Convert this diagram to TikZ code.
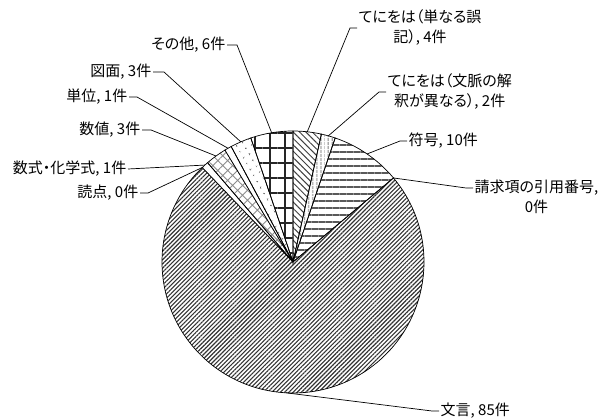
\documentclass[tikz,border=0pt]{standalone}
\usepackage{fontspec}
\setmainfont[RawFeature=+palt]{Noto Sans CJK JP}
\usetikzlibrary{patterns.meta}

\begin{document}
\begin{tikzpicture}[x=1pt, y=1pt,
  slice/.style={draw=black, line width=0.7pt},
  lbl/.style={inner sep=1.5pt, font=\fontsize{15}{20}\selectfont, align=center},
  leader/.style={draw=black, line width=0.7pt}]

\useasboundingbox (0,0) rectangle (606,418);
\coordinate (c) at (293,156);

% slices, clockwise from the top
\draw[slice, pattern={Lines[angle=-45, distance=4.5pt, line width=1pt]}, pattern color=black!75] (c) -- ++(90:131) arc[start angle=90, end angle=77.48, radius=131] -- cycle;
\draw[slice, pattern={Lines[angle=90, distance=4pt, line width=0.9pt]}, pattern color=black!75] (c) -- ++(77.48:131) arc[start angle=77.48, end angle=71.22, radius=131] -- cycle;
\draw[slice, pattern={Lines[angle=0, distance=7pt, line width=1.4pt]}, pattern color=black!65] (c) -- ++(71.22:131) arc[start angle=71.22, end angle=39.91, radius=131] -- cycle;
\draw[slice, pattern={Lines[angle=45, distance=3pt, line width=1.1pt]}, pattern color=black!80] (c) -- ++(39.91:131) arc[start angle=39.91, end angle=-226.17, radius=131] -- cycle;
\draw[slice, fill=white] (c) -- ++(133.83:131) arc[start angle=133.83, end angle=130.70, radius=131] -- cycle;
\draw[slice, pattern={Hatch[angle=45, distance=7pt, line width=0.9pt]}, pattern color=black!45] (c) -- ++(130.70:131) arc[start angle=130.70, end angle=121.30, radius=131] -- cycle;
\draw[slice, fill=white] (c) -- ++(121.30:131) arc[start angle=121.30, end angle=118.17, radius=131] -- cycle;
\draw[slice, pattern={Dots[angle=30, distance=6.5pt, radius=0.9pt]}, pattern color=black!60] (c) -- ++(118.17:131) arc[start angle=118.17, end angle=108.78, radius=131] -- cycle;
\draw[slice, pattern={Hatch[angle=0, distance=15pt, line width=1.2pt]}, pattern color=black!85] (c) -- ++(108.78:131) arc[start angle=108.78, end angle=90, radius=131] -- cycle;

% labels on the right
\node[lbl, anchor=west] (tenioha1) at (357,390) {てにをは（単なる誤\\記）, 4件};
\node[lbl, anchor=west] (tenioha2) at (386,326) {てにをは（文脈の解\\釈が異なる）, 2件};
\node[lbl, anchor=west] (fugo) at (407,277) {符号, 10件};
\node[lbl, anchor=west] (seikyu) at (473,221) {請求項の引用番号,\\0件};
\node[lbl, anchor=west] (mongon) at (439,7) {文言, 85件};

% labels on the left
\node[lbl, anchor=east] (sonota) at (227,373) {その他, 6件};
\node[lbl, anchor=east] (zumen) at (153,346) {図面, 3件};
\node[lbl, anchor=east] (tani) at (129,321) {単位, 1件};
\node[lbl, anchor=east] (suchi) at (142,288) {数値, 3件};
\node[lbl, anchor=east] (sushiki) at (128,249) {数式・化学式, 1件};
\node[lbl, anchor=east] (toten) at (140,225) {読点, 0件};

% leader lines
\draw[leader] ([shift={(83.74:131)}]c) -- ([xshift=-7pt]tenioha1.west) -- (tenioha1.west);
\draw[leader] ([shift={(74.35:131)}]c) -- ([xshift=-7pt]tenioha2.west) -- (tenioha2.west);
\draw[leader] ([shift={(55.56:131)}]c) -- ([xshift=-7pt]fugo.west) -- (fugo.west);
\draw[leader] ([shift={(39.91:131)}]c) -- ([shift={(-7pt,9pt)}]seikyu.west) -- ([yshift=9pt]seikyu.west);
\draw[leader] ([shift={(-93.13:131)}]c) -- ([xshift=-7pt]mongon.west) -- (mongon.west);

\draw[leader] (sonota.east) -- ([xshift=10pt]sonota.east) -- ([shift={(99.39:131)}]c);
\draw[leader] (zumen.east) -- ([xshift=11pt]zumen.east) -- ([shift={(113.48:131)}]c);
\draw[leader] (tani.east) -- ([xshift=8pt]tani.east) -- ([shift={(119.74:131)}]c);
\draw[leader] (suchi.east) -- ([xshift=9pt]suchi.east) -- ([shift={(126.00:131)}]c);
\draw[leader] (sushiki.east) -- ([shift={(132.27:131)}]c);
\draw[leader] (toten.east) -- ([xshift=8pt]toten.east) -- ([shift={(133.83:131)}]c);

\end{tikzpicture}
\end{document}
